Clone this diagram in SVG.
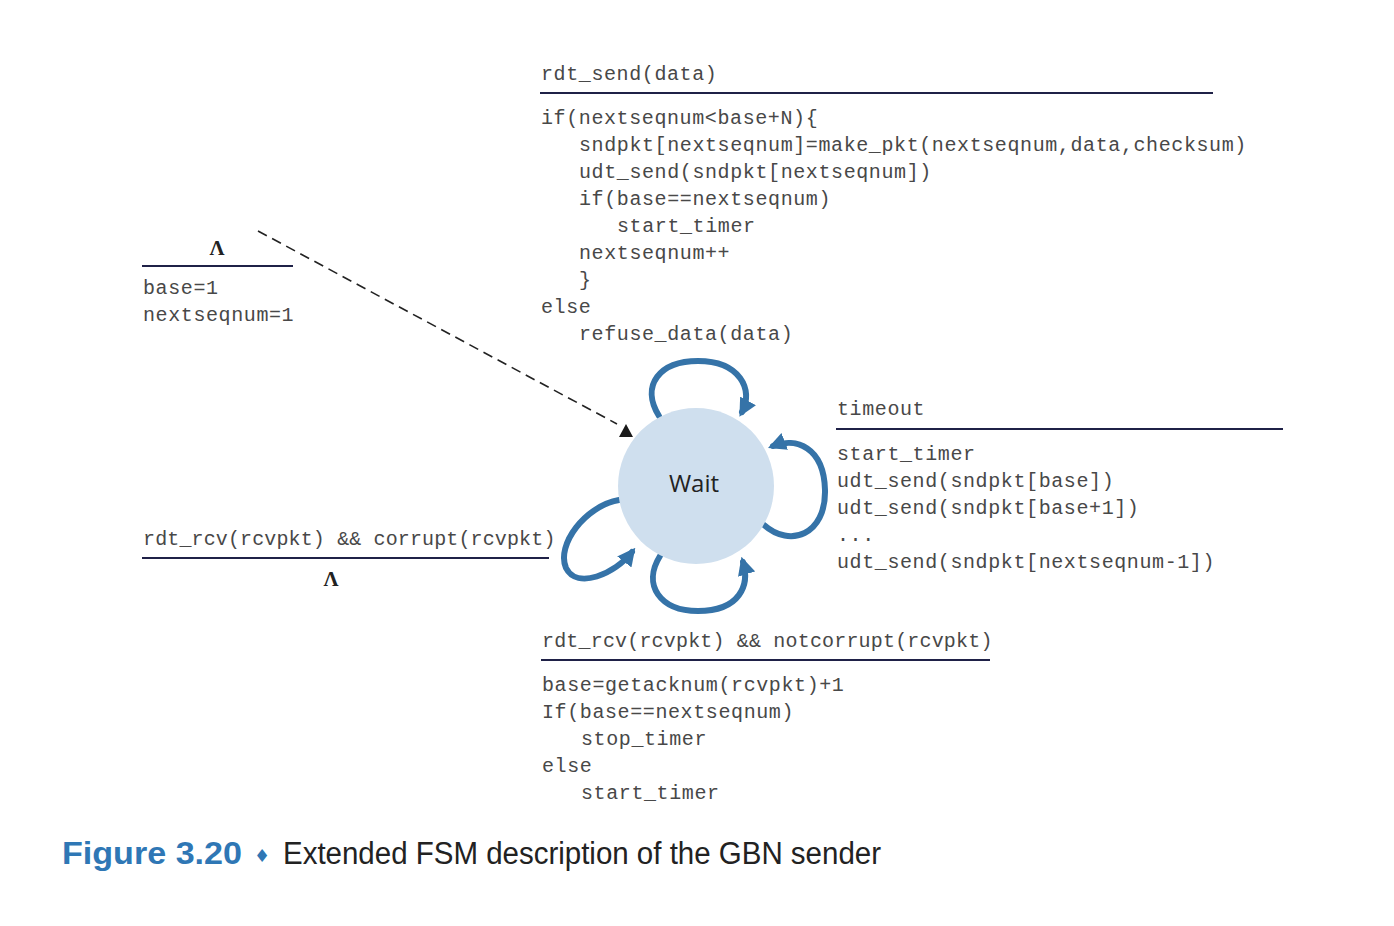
<svg xmlns="http://www.w3.org/2000/svg" width="1394" height="926" viewBox="0 0 1394 926">
  <defs>
    <style>
      .code { font-family: "Liberation Mono", "DejaVu Sans Mono", monospace; font-size: 20px; letter-spacing: 0.6px; fill: #484848; }
      .lam { font-family: "Liberation Serif", serif; font-size: 21px; font-weight: bold; fill: #222; }
      .rule { stroke: #1f2147; stroke-width: 2; }
      .loop { fill: none; stroke: #3573a8; stroke-width: 6; stroke-linecap: round; }
    </style>
    <marker id="loopHead" viewBox="0 0 10 10" refX="7" refY="5" markerWidth="18" markerHeight="18" markerUnits="userSpaceOnUse" orient="auto">
      <path d="M0,0 L10,5 L0,10 z" fill="#3573a8"/>
    </marker>
  </defs>
  <rect width="1394" height="926" fill="#ffffff"/>

  <!-- connectors -->
  <g id="connectors">
    <line x1="258" y1="231" x2="617" y2="424" stroke="#222" stroke-width="1.6" stroke-dasharray="10,6"/>
    <polygon points="619,437 633,437 626,424" fill="#1a1a1a"/>
    <!-- top self-loop (rdt_send) -->
    <path class="loop" d="M 659 416 C 640 385, 660 361, 698 361 C 740 361, 754 390, 742 412" marker-end="url(#loopHead)"/>
    <!-- right self-loop (timeout) -->
    <path class="loop" d="M 764 525 C 790 548, 826 535, 825 490 C 824 447, 796 437, 773 446" marker-end="url(#loopHead)"/>
    <!-- bottom self-loop (notcorrupt) -->
    <path class="loop" d="M 660 556 C 642 585, 660 611, 698 611 C 740 611, 750 585, 743 562" marker-end="url(#loopHead)"/>
    <!-- left self-loop (corrupt) -->
    <path class="loop" d="M 619 500 C 585 506, 556 545, 566 568 C 577 590, 615 574, 632 552" marker-end="url(#loopHead)"/>
  </g>

  <!-- state -->
  <g id="wait">
    <circle cx="696" cy="486" r="78" fill="#cfdfee"/>
    <text x="694" y="492" font-family="'Open Sans', 'Liberation Sans', sans-serif" font-size="24" fill="#222" text-anchor="middle">Wait</text>
  </g>

  <!-- initial transition -->
  <g id="init-label">
    <text class="lam" x="217" y="255" text-anchor="middle">Λ</text>
    <line class="rule" x1="142" y1="266" x2="293" y2="266"/>
    <text class="code" x="143" y="294">base=1</text>
    <text class="code" x="143" y="321">nextseqnum=1</text>
  </g>

  <!-- rdt_send transition -->
  <g id="send-label">
    <text class="code" x="541" y="80">rdt_send(data)</text>
    <line class="rule" x1="540" y1="93" x2="1213" y2="93"/>
    <text class="code" x="541" y="124">if(nextseqnum&lt;base+N){</text>
    <text class="code" x="579" y="151">sndpkt[nextseqnum]=make_pkt(nextseqnum,data,checksum)</text>
    <text class="code" x="579" y="178">udt_send(sndpkt[nextseqnum])</text>
    <text class="code" x="579" y="205">if(base==nextseqnum)</text>
    <text class="code" x="617" y="232">start_timer</text>
    <text class="code" x="579" y="259">nextseqnum++</text>
    <text class="code" x="579" y="286">}</text>
    <text class="code" x="541" y="313">else</text>
    <text class="code" x="579" y="340">refuse_data(data)</text>
  </g>

  <!-- timeout transition -->
  <g id="timeout-label">
    <text class="code" x="837" y="415">timeout</text>
    <line class="rule" x1="836" y1="429" x2="1283" y2="429"/>
    <text class="code" x="837" y="460">start_timer</text>
    <text class="code" x="837" y="487">udt_send(sndpkt[base])</text>
    <text class="code" x="837" y="514">udt_send(sndpkt[base+1])</text>
    <text class="code" x="837" y="541">...</text>
    <text class="code" x="837" y="568">udt_send(sndpkt[nextseqnum-1])</text>
  </g>

  <!-- corrupt ACK transition -->
  <g id="corrupt-label">
    <text class="code" x="143" y="545" textLength="413" lengthAdjust="spacing">rdt_rcv(rcvpkt) &amp;&amp; corrupt(rcvpkt)</text>
    <line class="rule" x1="142" y1="558" x2="549" y2="558"/>
    <text class="lam" x="331" y="586" text-anchor="middle">Λ</text>
  </g>

  <!-- valid ACK transition -->
  <g id="ack-label">
    <text class="code" x="542" y="647" textLength="451" lengthAdjust="spacing">rdt_rcv(rcvpkt) &amp;&amp; notcorrupt(rcvpkt)</text>
    <line class="rule" x1="541" y1="660" x2="990" y2="660"/>
    <text class="code" x="542" y="691">base=getacknum(rcvpkt)+1</text>
    <text class="code" x="542" y="718">If(base==nextseqnum)</text>
    <text class="code" x="581" y="745">stop_timer</text>
    <text class="code" x="542" y="772">else</text>
    <text class="code" x="581" y="799">start_timer</text>
  </g>

  <!-- caption -->
  <g id="caption">
    <text x="62" y="864" font-family="'Liberation Sans', Arial, sans-serif" font-weight="bold" font-size="32" fill="#2f77b5" textLength="180" lengthAdjust="spacingAndGlyphs">Figure 3.20</text>
    <text x="262" y="862" font-family="'DejaVu Sans', sans-serif" font-size="18" fill="#2f77b5" text-anchor="middle">♦</text>
    <text x="283" y="864" font-family="'Liberation Sans', Arial, sans-serif" font-size="31" fill="#222" textLength="598" lengthAdjust="spacingAndGlyphs">Extended FSM description of the GBN sender</text>
  </g>
</svg>
